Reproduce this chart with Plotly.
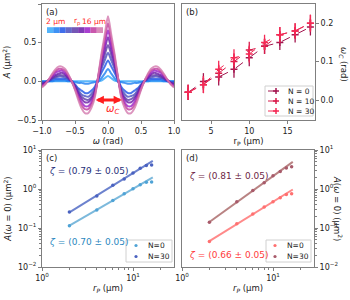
import numpy as np
import plotly.graph_objects as go

# ---------------- data ----------------
omega = [-1.0, -0.95, -0.9, -0.85, -0.8, -0.75, -0.7, -0.65, -0.6, -0.55, -0.5, -0.45, -0.4, -0.35, -0.3,
         -0.25, -0.2, -0.15, -0.1, -0.05, 0.0, 0.05, 0.1, 0.15, 0.2, 0.25, 0.3, 0.35, 0.4, 0.45, 0.5,
         0.55, 0.6, 0.65, 0.7, 0.75, 0.8, 0.85, 0.9, 0.95, 1.0]

A_rp2 = [0.00, 0.00, 0.00, 0.00, 0.00, 0.00, 0.00, 0.00, 0.00, 0.00, 0.00, 0.00, 0.00, 0.00, 0.00, 0.00, 0.00, 0.00,
         0.01, 0.04, 0.07, 0.04, 0.01,
         0.00, 0.00, 0.00, 0.00, 0.00, 0.00, 0.00, 0.00, 0.00, 0.00, 0.00, 0.00, 0.00, 0.00, 0.00, 0.00, 0.00, 0.00]
A_rp4 = [0.00, 0.00, 0.00, 0.00, 0.01, 0.01, 0.01, 0.01, 0.00, 0.00, -0.01, -0.02, -0.02, -0.03, -0.03, -0.02, -0.01,
         0.00, 0.04, 0.10, 0.16, 0.10, 0.04, 0.00, -0.01, -0.02, -0.03, -0.03, -0.02, -0.02, -0.01, 0.00, 0.00,
         0.01, 0.01, 0.01, 0.01, 0.00, 0.00, 0.00, 0.00]
A_rp6 = [-0.01, -0.01, 0.00, 0.02, 0.03, 0.03, 0.03, 0.03, 0.02, 0.00, -0.04, -0.09, -0.12, -0.15, -0.15, -0.12, -0.07,
         0.02, 0.11, 0.19, 0.27, 0.19, 0.11, 0.02, -0.07, -0.12, -0.15, -0.15, -0.12, -0.09, -0.04, 0.00, 0.02,
         0.03, 0.03, 0.03, 0.03, 0.02, 0.00, -0.01, -0.01]
A_rp8 = [-0.02, -0.01, 0.01, 0.03, 0.05, 0.06, 0.06, 0.05, 0.03, 0.00, -0.05, -0.11, -0.17, -0.19, -0.20, -0.16, -0.10,
         0.02, 0.16, 0.27, 0.37, 0.27, 0.16, 0.02, -0.10, -0.16, -0.20, -0.19, -0.17, -0.11, -0.05, 0.00, 0.03,
         0.05, 0.06, 0.06, 0.05, 0.03, 0.01, -0.01, -0.02]
A_rp10 = [-0.03, -0.02, 0.01, 0.04, 0.06, 0.08, 0.08, 0.07, 0.04, 0.00, -0.06, -0.14, -0.20, -0.23, -0.24, -0.20, -0.12,
          0.03, 0.20, 0.34, 0.47, 0.34, 0.20, 0.03, -0.12, -0.20, -0.24, -0.23, -0.20, -0.14, -0.06, 0.00, 0.04,
          0.07, 0.08, 0.08, 0.06, 0.04, 0.01, -0.02, -0.03]
A_rp12 = [-0.04, -0.02, 0.01, 0.05, 0.08, 0.10, 0.11, 0.09, 0.05, 0.00, -0.07, -0.16, -0.23, -0.27, -0.27, -0.23, -0.14,
          0.04, 0.24, 0.41, 0.57, 0.41, 0.24, 0.04, -0.14, -0.23, -0.27, -0.27, -0.23, -0.16, -0.07, 0.00, 0.05,
          0.09, 0.11, 0.10, 0.08, 0.05, 0.01, -0.02, -0.04]
A_rp14 = [-0.06, -0.03, 0.02, 0.06, 0.11, 0.13, 0.14, 0.11, 0.06, 0.00, -0.09, -0.19, -0.27, -0.32, -0.32, -0.27, -0.16,
          0.05, 0.28, 0.48, 0.66, 0.48, 0.28, 0.05, -0.16, -0.27, -0.32, -0.32, -0.27, -0.19, -0.09, 0.00, 0.06,
          0.11, 0.14, 0.13, 0.11, 0.06, 0.02, -0.03, -0.06]
A_rp16 = [-0.07, -0.03, 0.02, 0.08, 0.13, 0.16, 0.16, 0.14, 0.08, 0.00, -0.10, -0.21, -0.31, -0.36, -0.36, -0.30, -0.18,
          0.05, 0.32, 0.54, 0.75, 0.54, 0.32, 0.05, -0.18, -0.30, -0.36, -0.36, -0.31, -0.21, -0.10, 0.00, 0.08,
          0.14, 0.16, 0.16, 0.13, 0.08, 0.02, -0.03, -0.07]
A_rp18 = [-0.08, -0.04, 0.02, 0.09, 0.15, 0.19, 0.19, 0.16, 0.09, 0.00, -0.11, -0.24, -0.35, -0.41, -0.41, -0.34, -0.21,
          0.06, 0.35, 0.60, 0.84, 0.60, 0.35, 0.06, -0.21, -0.34, -0.41, -0.41, -0.35, -0.24, -0.11, 0.00, 0.09,
          0.16, 0.19, 0.19, 0.15, 0.09, 0.02, -0.04, -0.08]
curves_a = [A_rp2, A_rp4, A_rp6, A_rp8, A_rp10, A_rp12, A_rp14, A_rp16, A_rp18]
colors_a = ['#35A7FA', '#1C7FF2', '#1E55E8', '#4A4FC0', '#5D3AA8', '#6A1AA8', '#9A1EC8', '#C0399E', '#D47AAE']

# panel (b)
rp_b = [2, 4, 6, 8, 10, 12, 14, 16, 18]
wc_N0 = [0.02, 0.048, 0.06, 0.08, 0.11, 0.14, 0.15, 0.17, 0.19]
wc_N10 = [0.02, 0.04, 0.07, 0.10, 0.13, 0.14, 0.17, 0.18, 0.20]
wc_N30 = [0.02, 0.04, 0.08, 0.11, 0.12, 0.15, 0.17, 0.18, 0.20]
wc_err = [0.02, 0.022, 0.022, 0.022, 0.022, 0.02, 0.02, 0.02, 0.022]
labels_b = ['N = 0', 'N = 10', 'N = 30']
colors_b = ['#A3164F', '#D81B4A', '#F52A55']

# panels (c) and (d)
rp_cd = [2, 4, 6, 8, 10, 12, 14, 16]
c_N0 = [0.115, 0.29, 0.51, 0.76, 1.02, 1.28, 1.48, 1.51]
c_N30 = [0.257, 0.66, 1.24, 1.80, 2.57, 3.40, 4.00, 4.10]
d_N0 = [0.045, 0.129, 0.23, 0.345, 0.47, 0.60, 0.72, 0.76]
d_N30 = [0.14, 0.47, 0.92, 1.45, 2.20, 2.80, 3.45, 3.70]
zeta_c = ['(0.79 ± 0.05)', '(0.70 ± 0.05)']
zeta_d = ['(0.81 ± 0.05)', '(0.66 ± 0.05)']

W, H = 350, 300
def px(x):
    return x / W
def py(y):
    return 1 - y / H

FONT = 'DejaVu Sans'
FRAME = '#7f7f7f'

fig = go.Figure()

# ---- panel (a)
for yv, col in zip(curves_a, colors_a):
    fig.add_trace(go.Scatter(x=omega, y=yv, mode='lines', line=dict(color=col, width=2, shape='spline', smoothing=0.7),
                             opacity=0.8, xaxis='x', yaxis='y', showlegend=False, hoverinfo='skip'))

# ---- panel (b)
for yv, col in zip([wc_N0, wc_N10, wc_N30], colors_b):
    fig.add_trace(go.Scatter(x=rp_b, y=yv, mode='lines+markers',
                             line=dict(color=col, width=1, dash='dash'),
                             marker=dict(symbol='cross-thin', size=5, line=dict(color=col, width=1.5)),
                             error_y=dict(type='data', array=wc_err, color=col, thickness=1.3, width=0),
                             xaxis='x2', yaxis='y2', showlegend=False))

# ---- panels (c) and (d): points + power-law fits
def fit_line(x, y):
    x = np.array(x, dtype=float); y = np.array(y, dtype=float)
    p = np.polyfit(np.log10(x[:6]), np.log10(y[:6]), 1)
    xl = np.array([x.min(), x.max() * 1.03])
    return xl, 10 ** np.polyval(p, np.log10(xl))

for yv, pcol, lcol, xa, ya in [(c_N0, '#4FA3D6', '#7CB9DC', 'x3', 'y3'),
                                (c_N30, '#4A62C0', '#6C82CE', 'x3', 'y3'),
                                (d_N0, '#FF7070', '#FF8A8A', 'x4', 'y4'),
                                (d_N30, '#A85A6A', '#B98383', 'x4', 'y4')]:
    xl, yl = fit_line(rp_cd, yv)
    fig.add_trace(go.Scatter(x=xl, y=yl, mode='lines', line=dict(color=lcol, width=2),
                             xaxis=xa, yaxis=ya, showlegend=False))
    fig.add_trace(go.Scatter(x=rp_cd, y=yv, mode='markers', marker=dict(color=pcol, size=3.5),
                             xaxis=xa, yaxis=ya, showlegend=False))

axis_common = dict(showline=True, mirror=True, linecolor=FRAME, linewidth=1, ticks='outside', ticklen=3,
                   tickcolor=FRAME, showgrid=False, zeroline=False, automargin=False,
                   tickfont=dict(size=8, color='#222', family=FONT))
minor_log = dict(ticks='outside', ticklen=2, tickcolor=FRAME, dtick='D1', showgrid=False)
logx_vals = [1, 10]
logx_text = ['10<sup>0</sup>', '10<sup>1</sup>']
logy_vals = [0.01, 0.1, 1, 10]
logy_text = ['10<sup>−2</sup>', '10<sup>−1</sup>', '10<sup>0</sup>', '10<sup>1</sup>']
tfont = dict(size=8.5, color='#222', family=FONT)

fig.update_layout(
    width=W, height=H, margin=dict(l=0, r=0, t=0, b=0, autoexpand=False),
    paper_bgcolor='white', plot_bgcolor='white', font=dict(family=FONT, color='#222'),
    xaxis=dict(axis_common, domain=[px(42), px(174)], range=[-1, 1], tickvals=[-1, -0.5, 0, 0.5, 1], tickformat='.1f',
               anchor='y', title=dict(text='<i>ω</i> (rad)', font=tfont, standoff=3)),
    yaxis=dict(axis_common, domain=[py(120), py(4)], range=[-0.5, 1.0], tickvals=[-0.5, 0, 0.5, 1.0], tickformat='.1f',
               anchor='x', title=dict(text='<i>A</i> (μm<sup>2</sup>)', font=tfont, standoff=4)),
    xaxis2=dict(axis_common, domain=[px(182), px(315)], range=[1.2, 18.6], tickvals=[5, 10, 15], anchor='y2',
                title=dict(text='r<sub>P</sub> (μm)', font=tfont, standoff=3)),
    yaxis2=dict(axis_common, domain=[py(120), py(4)], range=[-0.052, 0.25], tickvals=[0, 0.1, 0.2], tickformat='.1f',
                side='right', anchor='x2'),
    xaxis3=dict(axis_common, type='log', domain=[px(42), px(174)], range=[0, 1.45], tickvals=logx_vals,
                ticktext=logx_text, minor=minor_log, anchor='y3',
                title=dict(text='<i>r<sub>P</sub></i> (μm)', font=tfont, standoff=3)),
    yaxis3=dict(axis_common, type='log', domain=[py(267), py(150)], range=[-2, 1], tickvals=logy_vals,
                ticktext=logy_text, minor=minor_log, anchor='x3',
                title=dict(text='<i>A</i>(<i>ω</i> = 0) (μm<sup>2</sup>)', font=tfont, standoff=4)),
    xaxis4=dict(axis_common, type='log', domain=[px(182), px(314)], range=[0, 1.45], tickvals=logx_vals,
                ticktext=logx_text, minor=minor_log, anchor='y4',
                title=dict(text='<i>r<sub>P</sub></i> (μm)', font=tfont, standoff=3)),
    yaxis4=dict(axis_common, type='log', domain=[py(267), py(150)], range=[-2, 1], tickvals=logy_vals,
                ticktext=logy_text, minor=minor_log, side='right', anchor='x4'),
)

ann = []
shapes = []
def text_ann(text, x, y, size, color, xanchor='center', textangle=0, italic=False):
    return dict(text=text, x=px(x), y=py(y), xref='paper', yref='paper', xanchor=xanchor, yanchor='middle',
                textangle=textangle, showarrow=False, borderpad=0, font=dict(size=size, color=color))

# panel labels
for lab, xr, yr in [('(a)', 'x domain', 'y domain'), ('(b)', 'x2 domain', 'y2 domain'),
                    ('(c)', 'x3 domain', 'y3 domain'), ('(d)', 'x4 domain', 'y4 domain')]:
    ann.append(dict(text=lab, x=0.015, y=0.995, xref=xr, yref=yr, xanchor='left', yanchor='top',
                    showarrow=False, font=dict(size=8.5, color='#222')))

# right-side rotated titles
ann.append(text_ann('<i>ω<sub>C</sub></i> (rad)', 344, 64, 8.5, '#222', textangle=90))
ann.append(text_ann('<i>A</i>(<i>ω</i> = 0) (μm<sup>2</sup>)', 338, 208, 8.5, '#222', textangle=90))

# colour key in panel (a)
n = len(colors_a)
x0k, x1k = -0.924, -0.076
wk = (x1k - x0k) / n
for i, col in enumerate(colors_a):
    shapes.append(dict(type='rect', xref='x', yref='y', x0=x0k + i * wk, x1=x0k + (i + 1) * wk, y0=0.625, y1=0.70,
                       fillcolor=col, line=dict(width=0), opacity=0.85))
red = '#FF1E1E'
ann.append(text_ann('2 μm', 55, 21, 7.5, red))
ann.append(text_ann('r<sub>p</sub>', 77, 21, 7.5, red))
ann.append(text_ann('16 μm', 94, 21, 7.5, red))

# omega_C arrow
ann.append(dict(text='', x=0.21, y=-0.24, ax=-0.21, ay=-0.24, xref='x', yref='y', axref='x', ayref='y',
                showarrow=True, arrowhead=2, arrowside='end+start', arrowsize=0.55, arrowwidth=3, arrowcolor=red))
ann.append(dict(text='<i>ω<sub>C</sub></i>', x=0.07, y=-0.36, xref='x', yref='y', xanchor='center', yanchor='middle',
                showarrow=False, font=dict(size=10, color=red)))

# zeta annotations
ann.append(text_ann('<i>ζ</i> = ' + zeta_c[0], 48, 171, 9, '#27307A', xanchor='left'))
ann.append(text_ann('<i>ζ</i> = ' + zeta_c[1], 48, 242, 9, '#2B88C0', xanchor='left'))
ann.append(text_ann('<i>ζ</i> = ' + zeta_d[0], 188, 176, 9, '#6E1F45', xanchor='left'))
ann.append(text_ann('<i>ζ</i> = ' + zeta_d[1], 188, 255, 9, '#FF3B3B', xanchor='left'))

# hand-made legends (compact, matplotlib-like)
def legend_box(x0, x1, y0, y1):
    shapes.append(dict(type='rect', xref='paper', yref='paper', x0=px(x0), x1=px(x1), y0=py(y1), y1=py(y0),
                       line=dict(color='#d0d0d0', width=1), fillcolor='rgba(255,255,255,0.85)'))

legend_box(265, 313, 86, 116)
for i, (lab, col) in enumerate(zip(labels_b, colors_b)):
    yy = 91 + 10 * i
    shapes.append(dict(type='line', xref='paper', yref='paper', x0=px(268), x1=px(284), y0=py(yy), y1=py(yy),
                       line=dict(color=col, width=1, dash='dash')))
    shapes.append(dict(type='line', xref='paper', yref='paper', x0=px(273), x1=px(279), y0=py(yy), y1=py(yy),
                       line=dict(color=col, width=1.5)))
    shapes.append(dict(type='line', xref='paper', yref='paper', x0=px(276), x1=px(276), y0=py(yy - 3), y1=py(yy + 3),
                       line=dict(color=col, width=1.5)))
    ann.append(text_ann(lab, 287, yy, 7.5, '#222', xanchor='left'))

for (bx0, bx1, dotx), cols in [((126, 172, 136), ['#4FA3D6', '#4A62C0']),
                              ((266, 311, 275), ['#FF7070', '#A85A6A'])]:
    legend_box(bx0, bx1, 240, 262)
    for i, (lab, col) in enumerate(zip(['N=0', 'N=30'], cols)):
        yy = 245.5 + 11 * i
        shapes.append(dict(type='circle', xref='paper', yref='paper', x0=px(dotx - 1.6), x1=px(dotx + 1.6),
                           y0=py(yy + 1.6), y1=py(yy - 1.6), fillcolor=col, line=dict(width=0)))
        ann.append(text_ann(lab, dotx + 11, yy, 7.5, '#222', xanchor='left'))

fig.update_layout(annotations=ann, shapes=shapes)
# the page body has a default 8 px margin; remove it so the figure fills the window exactly
fig.write_html('out.html', config={'displayModeBar': False},
               post_script="document.body.style.margin='0px';")
